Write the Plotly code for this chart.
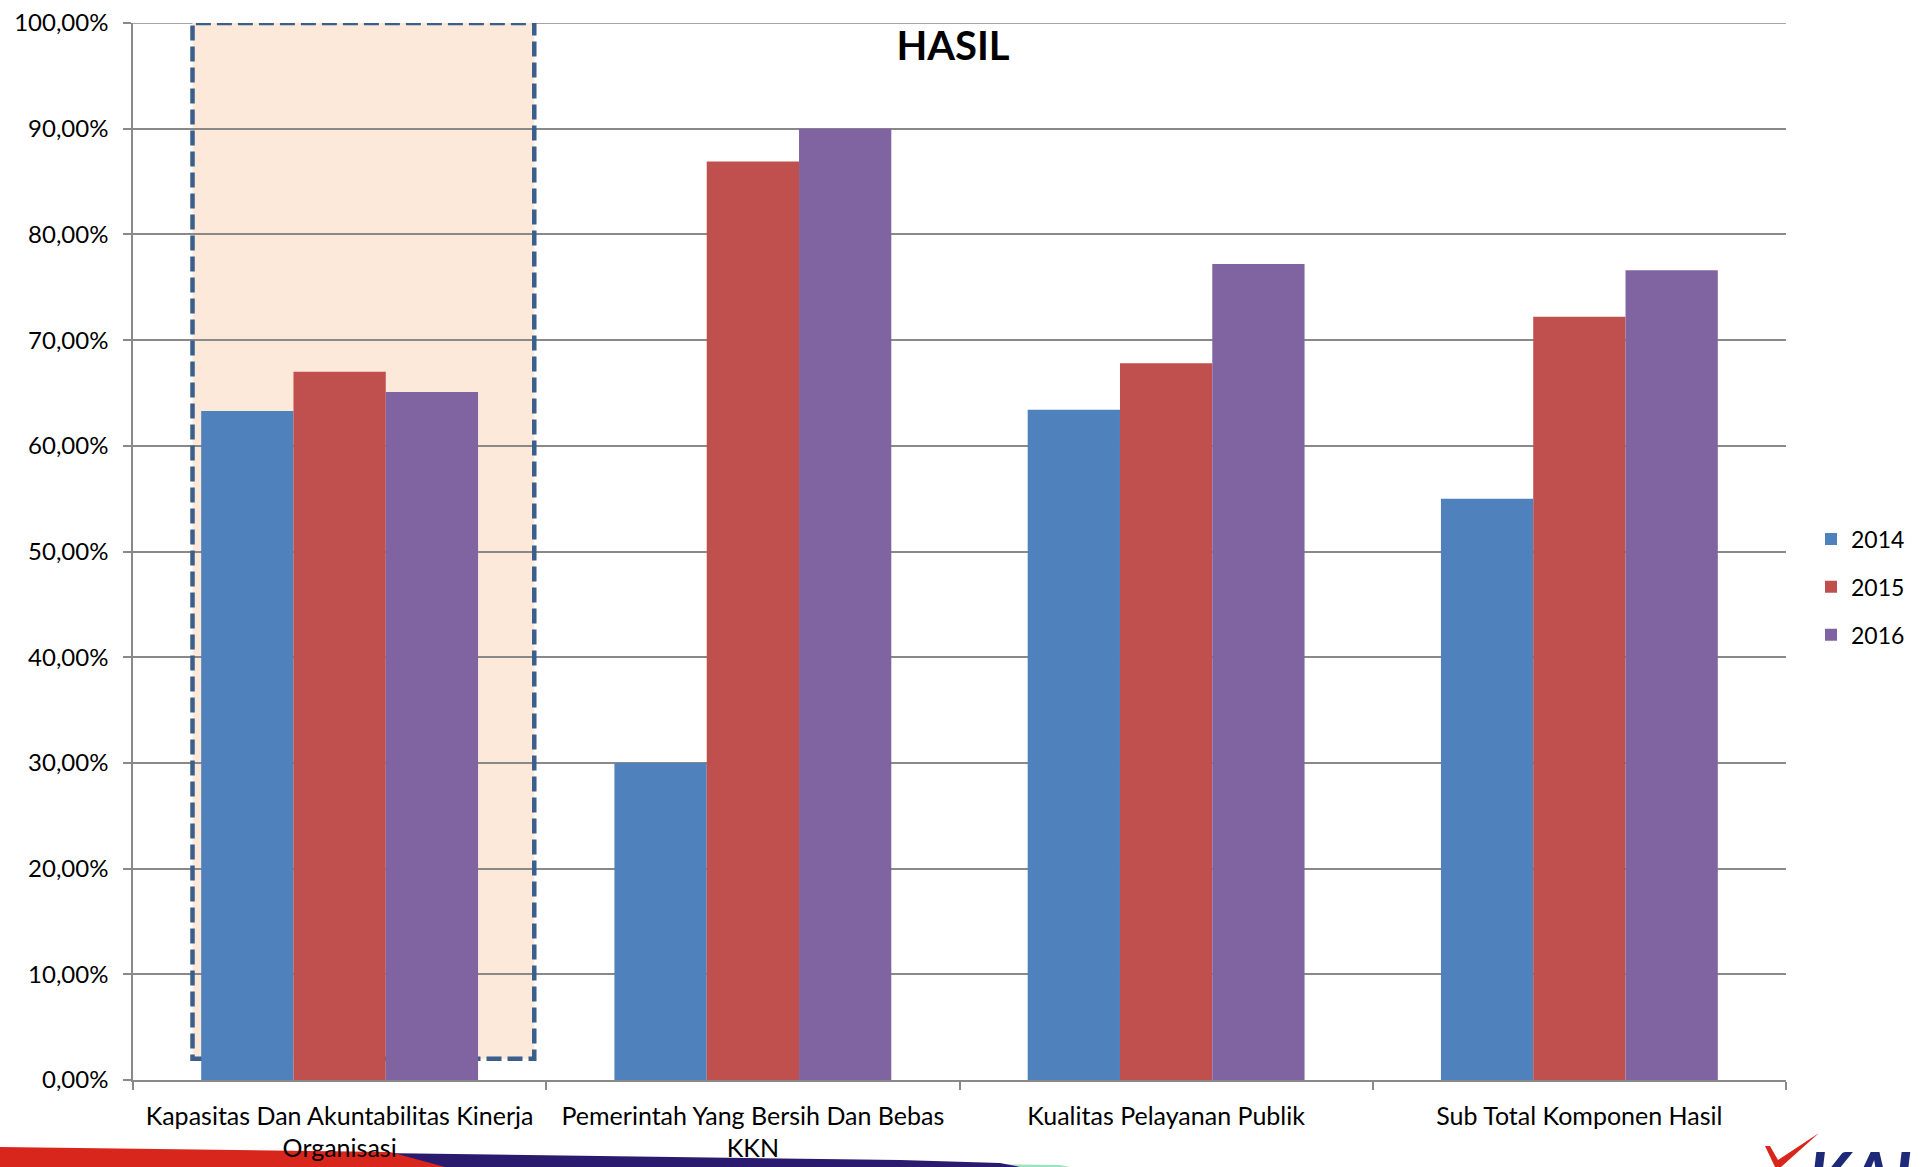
import plotly.graph_objects as go

categories = [
    "Kapasitas Dan Akuntabilitas Kinerja<br>Organisasi",
    "Pemerintah Yang Bersih Dan Bebas<br>KKN",
    "Kualitas Pelayanan Publik",
    "Sub Total Komponen Hasil",
]
years = ["2014", "2015", "2016"]
values_2014 = [0.633, 0.300, 0.634, 0.550]
values_2015 = [0.670, 0.869, 0.678, 0.722]
values_2016 = [0.651, 0.900, 0.772, 0.766]
colors = ["#4F81BD", "#C0504D", "#8064A2"]

W, H = 1925, 1167
L, R, T, B = 133, 1786, 23, 1080
FONT = "Lato"


def px(x):
    return (x - L) / (R - L)


def py(y):
    return (B - y) / (B - T)


fig = go.Figure()
for name, vals, col in zip(years, [values_2014, values_2015, values_2016], colors):
    fig.add_trace(go.Bar(x=categories, y=vals, name=name, marker_color=col,
                         marker_line_width=0, legendgroup=name))

# top gridline at 100%
fig.add_shape(type="line", xref="paper", yref="y", x0=0, x1=1, y0=1.0, y1=1.0,
              line=dict(color="#898989", width=1.5), layer="below")

# highlight box around first category (fill below gridlines, dashed border above)
fig.add_shape(type="rect", xref="x", yref="y", x0=-0.356, x1=0.471, y0=0.02, y1=1.0,
              fillcolor="#FDE9D9", line_width=0, layer="below")
fig.add_shape(type="rect", xref="x", yref="y", x0=-0.356, x1=0.471, y0=0.02, y1=1.0,
              fillcolor="rgba(0,0,0,0)", line=dict(color="#3B5E8C", width=4.5, dash="15px,6px"),
              layer="between")

# slide decoration at bottom
def path(points):
    s = "M " + " L ".join(f"{px(a):.5f},{py(b):.5f}" for a, b in points) + " Z"
    return s

fig.add_shape(type="path", xref="paper", yref="paper",
              path=path([(850, 1163), (1060, 1165), (1070, 1167), (860, 1167)]),
              fillcolor="#9FE0C0", line_width=0, layer="below")
fig.add_shape(type="path", xref="paper", yref="paper",
              path=path([(380, 1153), (900, 1160), (1000, 1163), (1020, 1167), (440, 1167)]),
              fillcolor="#2A1B6E", line_width=0, layer="below")
fig.add_shape(type="path", xref="paper", yref="paper",
              path=path([(0, 1147), (390, 1152), (445, 1167), (0, 1167)]),
              fillcolor="#D9261C", line_width=0, layer="below")
fig.add_shape(type="path", xref="paper", yref="paper",
              path=path([(1765, 1146), (1770, 1146), (1778, 1160), (1819, 1133), (1781, 1167), (1775, 1167)]),
              fillcolor="#D9261C", line_width=0, layer="below")
fig.add_annotation(xref="paper", yref="paper", x=px(1806), y=py(1175), xanchor="left",
                   yanchor="middle", text="<b><i>KAI</i></b>", showarrow=False,
                   font=dict(family=FONT, size=66, color="#1E2A78"))

fig.update_layout(
    width=W, height=H,
    margin=dict(l=L, r=W - R, t=T, b=H - B, pad=0, autoexpand=False),
    paper_bgcolor="white", plot_bgcolor="white",
    separators=",.",
    barmode="group", bargap=0.33, bargroupgap=0,
    font=dict(family=FONT, size=24, color="black"),
    title=dict(text="<b>HASIL</b>", x=953 / W, y=1 - 46 / H, xanchor="center",
               yanchor="middle", xref="container", yref="container",
               font=dict(family=FONT, size=40, color="black")),
    legend=dict(x=px(1811), y=py(587), xanchor="left", yanchor="middle",
                font=dict(family=FONT, size=23), tracegroupgap=15,
                bgcolor="rgba(0,0,0,0)"),
    showlegend=True,
)
fig.update_xaxes(showgrid=False, showline=True, linecolor="#898989", linewidth=1.5,
                 ticks="outside", tickson="boundaries", ticklen=8, tickcolor="#898989",
                 tickwidth=1.5, tickfont=dict(size=25), ticklabelstandoff=13,
                 automargin=False)
fig.update_yaxes(range=[0, 1], dtick=0.1, tickformat=".2%", showgrid=True,
                 gridcolor="#898989", gridwidth=1.5, showline=True, linecolor="#898989",
                 linewidth=1.5, ticks="outside", ticklen=8, tickcolor="#898989",
                 tickwidth=1.5, zeroline=False, ticklabelstandoff=10,
                 tickfont=dict(size=24), automargin=False)

fig.write_html("out.html")
